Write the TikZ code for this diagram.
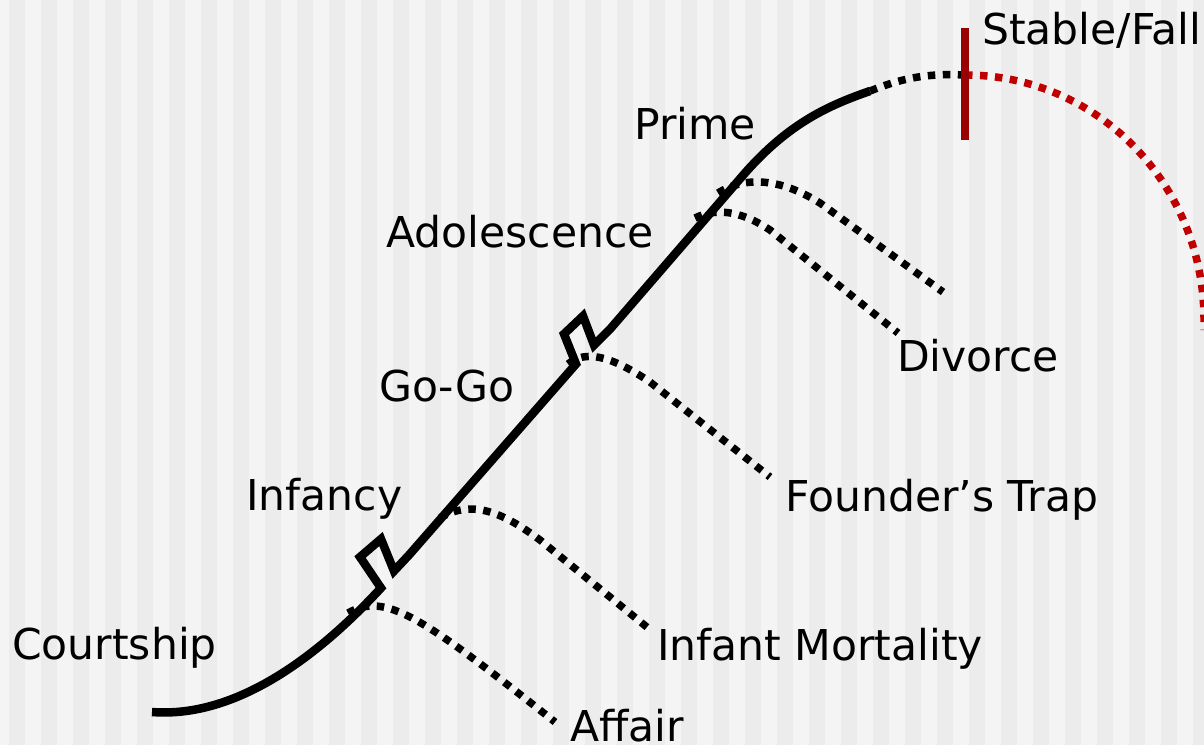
\documentclass[tikz,border=0pt]{standalone}
\usepackage{fontspec}
\setmainfont{DejaVu Sans}
\definecolor{bglight}{HTML}{F4F4F4}
\definecolor{bgdark}{HTML}{ECECEC}
\definecolor{barred}{HTML}{990000}
\definecolor{dotred}{HTML}{C00000}
\tikzset{
  mainline/.style={line width=8.5pt, black, line join=miter, miter limit=4},
  dotline/.style={line width=7.5pt, black, dash pattern=on 7.5pt off 7.5pt},
  reddot/.style={line width=7.5pt, dotred, dash pattern=on 7.5pt off 7.5pt},
  lbl/.style={anchor=base west, inner sep=0pt, font=\fontsize{42.5}{48}\selectfont, text=black},
}
\begin{document}
\begin{tikzpicture}[x=1pt,y=-1pt]
\useasboundingbox (0,0) rectangle (1204,745);
\clip (0,0) rectangle (1204,745);
\fill[bglight] (0,0) rectangle (1204,745);
\foreach \i in {0,...,37} \fill[bgdark] ({9+32*\i},0) rectangle ({25+32*\i},745);

% key points
\coordinate (start) at (152,712);
\coordinate (z1) at (381,588);
\coordinate (z2) at (576,364);
\coordinate (top) at (870,91);
\coordinate (peak) at (965,75);
\coordinate (fallend) at (1204,330);
\coordinate (bartop) at (965,28);
\coordinate (barbot) at (965,140);

% branch ends
\coordinate (affS) at (348,613);
\coordinate (affE) at (555,722);
\coordinate (imS) at (440,518);
\coordinate (imE) at (648,628);
\coordinate (ftS) at (568,364);
\coordinate (ftE) at (770,477);
\coordinate (a1S) at (718,193);
\coordinate (a1E) at (943,292);
\coordinate (a2S) at (695,218);
\coordinate (a2E) at (898,333);

% labels
\node[lbl] (stable) at (982,44) {Stable/Fall};
\node[lbl] (prime) at (634,139) {Prime};
\node[lbl] (adol) at (386,247) {Adolescence};
\node[lbl] (gogo) at (379,401) {Go-Go};
\node[lbl] (divorce) at (897,371) {Divorce};
\node[lbl] (infancy) at (246,510) {Infancy};
\node[lbl] (founder) at (785,511) {Founder’s Trap};
\node[lbl] (court) at (12,659) {Courtship};
\node[lbl] (infmort) at (657,660) {Infant Mortality};
\node[lbl] (affair) at (570,741) {Affair};

% dotted branches
\draw[dotline] (affS) .. controls (385,592) and (420,615) .. (affE);
\draw[dotline] (imS) .. controls (470,500) and (500,510) .. (540,540) -- (imE);
\draw[dotline] (ftS) .. controls (585,350) and (610,355) .. (650,382) -- (ftE);
\draw[dotline] (a1S) .. controls (745,176) and (780,178) .. (820,203) -- (a1E);
\draw[dotline] (a2S) .. controls (715,208) and (740,210) .. (770,230) -- (a2E);

% main curve
\draw[mainline] (start) .. controls (230,718) and (310,665) .. (z1)
  -- (360,557) -- (381,539) -- (394,571) -- (409,555) -- (z2)
  -- (564,334) -- (583,316) -- (594,345) -- (611,328) -- (745,173)
  .. controls (790,122) and (830,105) .. (top);
\draw[dotline] (top) .. controls (900,79) and (925,73) .. (peak);
\draw[reddot] (peak) .. controls (1098,75) and (1204,185) .. (1204,320) -- (fallend);
\draw[line width=8pt, barred] (bartop) -- (barbot);
\end{tikzpicture}
\end{document}
